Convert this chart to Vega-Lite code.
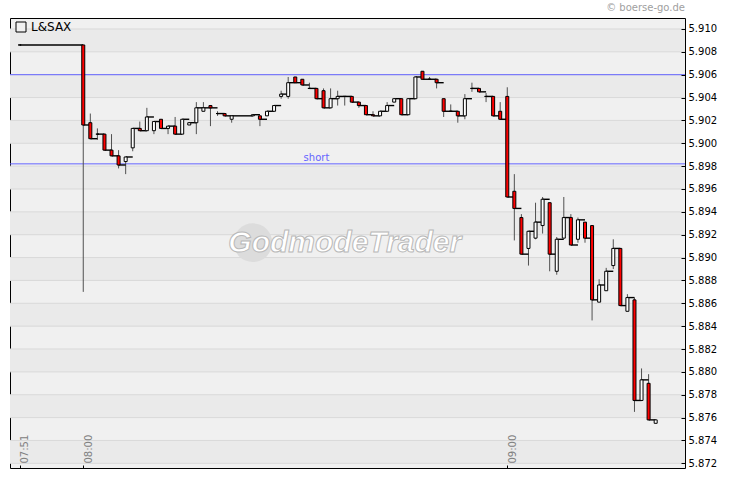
{
  "$schema": "https://vega.github.io/schema/vega-lite/v6.json",
  "width": 675,
  "height": 450,
  "autosize": "none",
  "padding": {"left": 10, "top": 18, "right": 45, "bottom": 13},
  "background": "#ffffff",
  "title": {"text": "© boerse-go.de", "anchor": "end", "fontSize": 10, "font": "DejaVu Sans", "fontWeight": "normal", "color": "#a0a0a0", "offset": 5, "frame": "group"},
  "config": {"view": {"stroke": "#000000", "strokeWidth": 1, "fill": "#f0f0f0"}},
  "datasets": {
    "candles": [
      {"t": "2024-01-02T07:51", "o": 5.9086, "h": 5.9086, "l": 5.9086, "c": 5.9086},
      {"t": "2024-01-02T08:00", "o": 5.9086, "h": 5.9086, "l": 5.8870, "c": 5.9016},
      {"t": "2024-01-02T08:01", "o": 5.9018, "h": 5.9026, "l": 5.9004, "c": 5.9004},
      {"t": "2024-01-02T08:02", "o": 5.9008, "h": 5.9013, "l": 5.9003, "c": 5.9008},
      {"t": "2024-01-02T08:03", "o": 5.9008, "h": 5.9008, "l": 5.8994, "c": 5.8994},
      {"t": "2024-01-02T08:04", "o": 5.8994, "h": 5.9008, "l": 5.8989, "c": 5.8989},
      {"t": "2024-01-02T08:05", "o": 5.8989, "h": 5.8994, "l": 5.8978, "c": 5.8981},
      {"t": "2024-01-02T08:06", "o": 5.8984, "h": 5.8988, "l": 5.8973, "c": 5.8988},
      {"t": "2024-01-02T08:07", "o": 5.8996, "h": 5.9013, "l": 5.8993, "c": 5.9013},
      {"t": "2024-01-02T08:08", "o": 5.9013, "h": 5.9019, "l": 5.9011, "c": 5.9011},
      {"t": "2024-01-02T08:09", "o": 5.9011, "h": 5.9031, "l": 5.9011, "c": 5.9023},
      {"t": "2024-01-02T08:10", "o": 5.9011, "h": 5.9019, "l": 5.9008, "c": 5.9019},
      {"t": "2024-01-02T08:11", "o": 5.9021, "h": 5.9021, "l": 5.9013, "c": 5.9013},
      {"t": "2024-01-02T08:12", "o": 5.9013, "h": 5.9015, "l": 5.9008, "c": 5.9015},
      {"t": "2024-01-02T08:13", "o": 5.9015, "h": 5.9023, "l": 5.9008, "c": 5.9008},
      {"t": "2024-01-02T08:14", "o": 5.9008, "h": 5.9021, "l": 5.9008, "c": 5.9021},
      {"t": "2024-01-02T08:15", "o": 5.9016, "h": 5.9018, "l": 5.9016, "c": 5.9018},
      {"t": "2024-01-02T08:16", "o": 5.9018, "h": 5.9036, "l": 5.9008, "c": 5.9031},
      {"t": "2024-01-02T08:17", "o": 5.9028, "h": 5.9036, "l": 5.9028, "c": 5.9031},
      {"t": "2024-01-02T08:18", "o": 5.9033, "h": 5.9033, "l": 5.9015, "c": 5.9031},
      {"t": "2024-01-02T08:19", "o": 5.9026, "h": 5.9028, "l": 5.9024, "c": 5.9026},
      {"t": "2024-01-02T08:20", "o": 5.9026, "h": 5.9026, "l": 5.9024, "c": 5.9024},
      {"t": "2024-01-02T08:21", "o": 5.9021, "h": 5.9023, "l": 5.9018, "c": 5.9024},
      {"t": "2024-01-02T08:24", "o": 5.9024, "h": 5.9025, "l": 5.9024, "c": 5.9025},
      {"t": "2024-01-02T08:25", "o": 5.9024, "h": 5.9024, "l": 5.9015, "c": 5.9021},
      {"t": "2024-01-02T08:26", "o": 5.9024, "h": 5.9028, "l": 5.9024, "c": 5.9028},
      {"t": "2024-01-02T08:27", "o": 5.9028, "h": 5.9033, "l": 5.9028, "c": 5.9033},
      {"t": "2024-01-02T08:28", "o": 5.9041, "h": 5.9046, "l": 5.9039, "c": 5.9043},
      {"t": "2024-01-02T08:29", "o": 5.9041, "h": 5.9058, "l": 5.9039, "c": 5.9053},
      {"t": "2024-01-02T08:30", "o": 5.9058, "h": 5.9058, "l": 5.9053, "c": 5.9053},
      {"t": "2024-01-02T08:31", "o": 5.9056, "h": 5.9056, "l": 5.9051, "c": 5.9051},
      {"t": "2024-01-02T08:32", "o": 5.9048, "h": 5.9053, "l": 5.9048, "c": 5.9048},
      {"t": "2024-01-02T08:33", "o": 5.9048, "h": 5.9048, "l": 5.9039, "c": 5.9039},
      {"t": "2024-01-02T08:34", "o": 5.9046, "h": 5.9048, "l": 5.9031, "c": 5.9031},
      {"t": "2024-01-02T08:35", "o": 5.9031, "h": 5.9048, "l": 5.9031, "c": 5.9039},
      {"t": "2024-01-02T08:36", "o": 5.9039, "h": 5.9046, "l": 5.9033, "c": 5.9041},
      {"t": "2024-01-02T08:37", "o": 5.9041, "h": 5.9041, "l": 5.9033, "c": 5.9041},
      {"t": "2024-01-02T08:38", "o": 5.9041, "h": 5.9041, "l": 5.9036, "c": 5.9036},
      {"t": "2024-01-02T08:39", "o": 5.9036, "h": 5.9036, "l": 5.9031, "c": 5.9033},
      {"t": "2024-01-02T08:40", "o": 5.9033, "h": 5.9033, "l": 5.9025, "c": 5.9025},
      {"t": "2024-01-02T08:41", "o": 5.9025, "h": 5.9028, "l": 5.9024, "c": 5.9024},
      {"t": "2024-01-02T08:42", "o": 5.9024, "h": 5.9028, "l": 5.9024, "c": 5.9028},
      {"t": "2024-01-02T08:43", "o": 5.9028, "h": 5.9036, "l": 5.9028, "c": 5.9033},
      {"t": "2024-01-02T08:44", "o": 5.9036, "h": 5.9039, "l": 5.9036, "c": 5.9039},
      {"t": "2024-01-02T08:45", "o": 5.9039, "h": 5.9039, "l": 5.9025, "c": 5.9025},
      {"t": "2024-01-02T08:46", "o": 5.9025, "h": 5.9039, "l": 5.9025, "c": 5.9039},
      {"t": "2024-01-02T08:47", "o": 5.9039, "h": 5.9058, "l": 5.9039, "c": 5.9058},
      {"t": "2024-01-02T08:48", "o": 5.9063, "h": 5.9063, "l": 5.9056, "c": 5.9056},
      {"t": "2024-01-02T08:49", "o": 5.9056, "h": 5.9058, "l": 5.9056, "c": 5.9056},
      {"t": "2024-01-02T08:50", "o": 5.9056, "h": 5.9056, "l": 5.9048, "c": 5.9053},
      {"t": "2024-01-02T08:51", "o": 5.9039, "h": 5.9039, "l": 5.9023, "c": 5.9028},
      {"t": "2024-01-02T08:52", "o": 5.9028, "h": 5.9034, "l": 5.9028, "c": 5.9028},
      {"t": "2024-01-02T08:53", "o": 5.9028, "h": 5.9028, "l": 5.9018, "c": 5.9024},
      {"t": "2024-01-02T08:54", "o": 5.9024, "h": 5.9043, "l": 5.9021, "c": 5.9039},
      {"t": "2024-01-02T08:55", "o": 5.9048, "h": 5.9053, "l": 5.9045, "c": 5.9048},
      {"t": "2024-01-02T08:56", "o": 5.9048, "h": 5.9048, "l": 5.9045, "c": 5.9045},
      {"t": "2024-01-02T08:57", "o": 5.9041, "h": 5.9044, "l": 5.9036, "c": 5.9041},
      {"t": "2024-01-02T08:58", "o": 5.9041, "h": 5.9041, "l": 5.9024, "c": 5.9024},
      {"t": "2024-01-02T08:59", "o": 5.9028, "h": 5.9036, "l": 5.9021, "c": 5.9021},
      {"t": "2024-01-02T09:00", "o": 5.9041, "h": 5.9049, "l": 5.8953, "c": 5.8953},
      {"t": "2024-01-02T09:01", "o": 5.8958, "h": 5.8973, "l": 5.8915, "c": 5.8943},
      {"t": "2024-01-02T09:02", "o": 5.8935, "h": 5.8938, "l": 5.8903, "c": 5.8903},
      {"t": "2024-01-02T09:03", "o": 5.8908, "h": 5.8923, "l": 5.8893, "c": 5.8923},
      {"t": "2024-01-02T09:04", "o": 5.8917, "h": 5.8948, "l": 5.8916, "c": 5.8931},
      {"t": "2024-01-02T09:05", "o": 5.8928, "h": 5.8953, "l": 5.8921, "c": 5.8951},
      {"t": "2024-01-02T09:06", "o": 5.8948, "h": 5.8948, "l": 5.8888, "c": 5.8903},
      {"t": "2024-01-02T09:07", "o": 5.8888, "h": 5.8918, "l": 5.8885, "c": 5.8916},
      {"t": "2024-01-02T09:08", "o": 5.8917, "h": 5.8953, "l": 5.8917, "c": 5.8935},
      {"t": "2024-01-02T09:09", "o": 5.8935, "h": 5.8938, "l": 5.8911, "c": 5.8911},
      {"t": "2024-01-02T09:10", "o": 5.8916, "h": 5.8935, "l": 5.8913, "c": 5.8933},
      {"t": "2024-01-02T09:11", "o": 5.8931, "h": 5.8931, "l": 5.8913, "c": 5.8917},
      {"t": "2024-01-02T09:12", "o": 5.8928, "h": 5.8928, "l": 5.8845, "c": 5.8863},
      {"t": "2024-01-02T09:13", "o": 5.8861, "h": 5.8881, "l": 5.8861, "c": 5.8876},
      {"t": "2024-01-02T09:14", "o": 5.8871, "h": 5.8891, "l": 5.8871, "c": 5.8888},
      {"t": "2024-01-02T09:15", "o": 5.8893, "h": 5.8916, "l": 5.8890, "c": 5.8908},
      {"t": "2024-01-02T09:16", "o": 5.8908, "h": 5.8908, "l": 5.8858, "c": 5.8858},
      {"t": "2024-01-02T09:17", "o": 5.8853, "h": 5.8868, "l": 5.8853, "c": 5.8865},
      {"t": "2024-01-02T09:18", "o": 5.8863, "h": 5.8865, "l": 5.8765, "c": 5.8775},
      {"t": "2024-01-02T09:19", "o": 5.8775, "h": 5.8803, "l": 5.8775, "c": 5.8793},
      {"t": "2024-01-02T09:20", "o": 5.8790, "h": 5.8798, "l": 5.8758, "c": 5.8758},
      {"t": "2024-01-02T09:21", "o": 5.8755, "h": 5.8758, "l": 5.8755, "c": 5.8758}
    ],
    "bands": [
      {"lo": 5.872, "hi": 5.874}, {"lo": 5.876, "hi": 5.878}, {"lo": 5.880, "hi": 5.882},
      {"lo": 5.884, "hi": 5.886}, {"lo": 5.888, "hi": 5.890}, {"lo": 5.892, "hi": 5.894},
      {"lo": 5.896, "hi": 5.898}, {"lo": 5.900, "hi": 5.902}, {"lo": 5.904, "hi": 5.906},
      {"lo": 5.908, "hi": 5.910}
    ],
    "levels": [
      {"p": 5.906, "label": "", "t": "2024-01-02T08:33"},
      {"p": 5.8982, "label": "short", "t": "2024-01-02T08:33"}
    ],
    "logo": [
      {"t": "2024-01-02T08:37", "tc": "2024-01-02T08:24", "p": 5.8913, "w": "GodmodeTrader"}
    ]
  },
  "layer": [
    {
      "data": {"name": "bands"},
      "mark": {"type": "rect", "fill": "#eaeaea"},
      "encoding": {
        "y": {"field": "lo", "type": "quantitative", "scale": {"domain": [5.87159, 5.91096], "nice": false, "zero": false, "padding": 0},
          "axis": {"orient": "right", "values": [5.872, 5.874, 5.876, 5.878, 5.880, 5.882, 5.884, 5.886, 5.888, 5.890, 5.892, 5.894, 5.896, 5.898, 5.900, 5.902, 5.904, 5.906, 5.908, 5.910],
            "tickCount": 20, "format": ".3f", "tickSize": -4, "labelPadding": 7, "domain": false, "grid": false, "title": null, "labelColor": "#000000", "labelFontSize": 10, "labelFont": "DejaVu Sans", "tickColor": "#000000", "labelFlush": false, "labelOverlap": false, "labelSeparation": 0, "zindex": 1}},
        "y2": {"field": "hi"}
      }
    },
    {
      "data": {"name": "bands"},
      "mark": {"type": "rule", "stroke": "#d9d9d9", "strokeWidth": 1},
      "encoding": {"y": {"field": "lo", "type": "quantitative"}}
    },
    {
      "data": {"name": "bands"},
      "mark": {"type": "rule", "stroke": "#d9d9d9", "strokeWidth": 1},
      "encoding": {"y": {"field": "hi", "type": "quantitative"}}
    },
    {
      "data": {"name": "logo"},
      "mark": {"type": "point", "shape": "circle", "filled": true, "size": 1500, "color": "#dcdcdc", "opacity": 1},
      "encoding": {
        "x": {"field": "tc", "type": "temporal",
          "scale": {"domain": [{"year": 2024, "month": 1, "date": 2, "hours": 7, "minutes": 49, "seconds": 38}, {"year": 2024, "month": 1, "date": 2, "hours": 9, "minutes": 25, "seconds": 9}], "nice": false, "padding": 0},
          "axis": {"values": [{"year": 2024, "month": 1, "date": 2, "hours": 7, "minutes": 51}, {"year": 2024, "month": 1, "date": 2, "hours": 8, "minutes": 0}, {"year": 2024, "month": 1, "date": 2, "hours": 9, "minutes": 0}],
            "format": "%H:%M", "labelAngle": 270, "labelAlign": "left", "labelBaseline": "top", "tickSize": -3, "labelPadding": -2, "labelOffset": 0, "domain": false, "grid": false, "title": null, "labelColor": "#808080", "labelFontSize": 10, "labelFont": "DejaVu Sans", "tickColor": "#000000", "labelFlush": false, "labelOverlap": false, "zindex": 1}},
        "y": {"field": "p", "type": "quantitative"}
      }
    },
    {
      "data": {"name": "logo"},
      "mark": {"type": "text", "font": "Liberation Sans", "fontSize": 30, "fontStyle": "italic", "fontWeight": "bold", "fill": "#ffffff", "stroke": "#b8b8b8", "strokeWidth": 1, "align": "center", "baseline": "middle"},
      "encoding": {
        "x": {"field": "t", "type": "temporal"},
        "y": {"field": "p", "type": "quantitative"},
        "text": {"field": "w"}
      }
    },
    {
      "data": {"name": "levels"},
      "mark": {"type": "rule", "stroke": "#6464ff", "strokeWidth": 1},
      "encoding": {"y": {"field": "p", "type": "quantitative"}}
    },
    {
      "data": {"name": "levels"},
      "transform": [{"filter": "datum.label != ''"}],
      "mark": {"type": "text", "color": "#6464ff", "font": "DejaVu Sans", "fontSize": 10, "align": "center", "baseline": "alphabetic", "dy": -3},
      "encoding": {
        "x": {"field": "t", "type": "temporal"},
        "y": {"field": "p", "type": "quantitative"},
        "text": {"field": "label"}
      }
    },
    {
      "data": {"name": "candles"},
      "mark": {"type": "rule", "stroke": "#505050", "strokeWidth": 1},
      "encoding": {
        "x": {"field": "t", "type": "temporal"},
        "y": {"field": "l", "type": "quantitative"},
        "y2": {"field": "h"}
      }
    },
    {
      "data": {"name": "candles"},
      "transform": [
        {"window": [{"op": "lead", "field": "t", "as": "tn"}], "sort": [{"field": "t"}]},
        {"filter": "datum.tn != null"}
      ],
      "mark": {"type": "rule", "strokeWidth": 1.4},
      "encoding": {
        "x": {"field": "t", "type": "temporal"},
        "x2": {"field": "tn"},
        "y": {"field": "c", "type": "quantitative"},
        "color": {"datum": "L&SAX", "type": "nominal", "scale": {"range": ["#000000"]},
          "legend": {"orient": "none", "legendX": 5, "legendY": 3, "title": null, "symbolType": "square", "symbolSize": 100, "symbolStrokeWidth": 1, "symbolStrokeColor": "#000000", "symbolFillColor": "#f0f0f0", "labelFont": "DejaVu Sans", "labelFontSize": 12, "labelColor": "#000000", "labelOffset": 4, "padding": 0}}
      }
    },
    {
      "data": {"name": "candles"},
      "mark": {"type": "bar", "size": 3, "stroke": "#000000", "strokeWidth": 1},
      "encoding": {
        "x": {"field": "t", "type": "temporal"},
        "y": {"field": "o", "type": "quantitative"},
        "y2": {"field": "c"},
        "fill": {"condition": {"test": "datum.c < datum.o", "value": "#ff0000"}, "value": "#ffffff"}
      }
    }
  ]
}
